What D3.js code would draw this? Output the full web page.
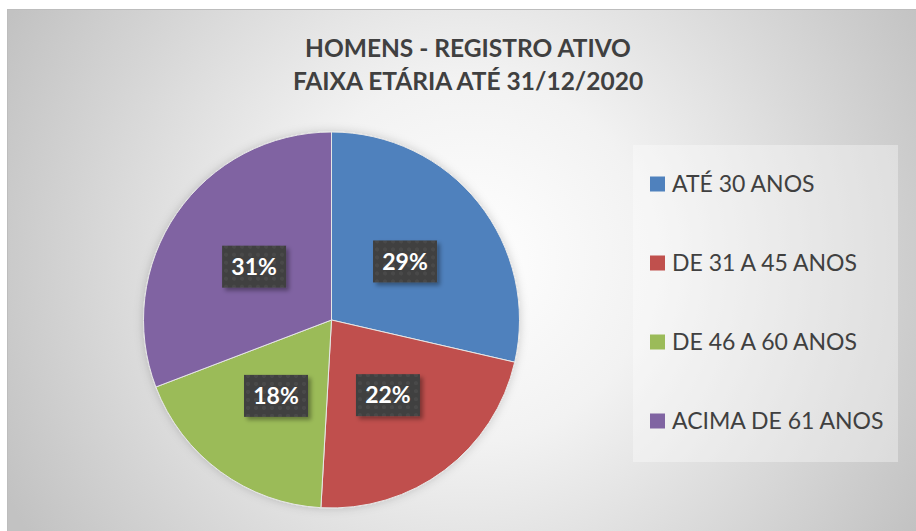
<!DOCTYPE html>
<html>
<head>
<meta charset="utf-8">
<script src="https://cdn.jsdelivr.net/npm/d3@7"></script>
<style>
  body { margin: 0; background: #fff; }
  svg { display: block; }
</style>
</head>
<body>
<svg id="chart"></svg>
<script>
// Data
const categories = ["ATÉ 30 ANOS", "DE 31 A 45 ANOS", "DE 46 A 60 ANOS", "ACIMA DE 61 ANOS"];
const values = [28.6, 22.3, 18.3, 30.8];
const colors = ["#4f81bd", "#c0504d", "#9bbb59", "#8064a2"];
const titleLines = ["HOMENS - REGISTRO ATIVO", "FAIXA ETÁRIA ATÉ 31/12/2020"];

const width = 916, height = 531;
const cx = 331.5, cy = 320, radius = 188;
const font = "Lato, 'Open Sans', sans-serif";

const svg = d3.select("#chart")
    .attr("width", width)
    .attr("height", height);

const defs = svg.append("defs");

// Background radial gradient
const grad = defs.append("radialGradient")
    .attr("id", "bg")
    .attr("gradientUnits", "userSpaceOnUse")
    .attr("cx", 470).attr("cy", 260).attr("r", 520);
grad.append("stop").attr("offset", "0").attr("stop-color", "#ffffff");
grad.append("stop").attr("offset", "0.35").attr("stop-color", "#f2f2f2");
grad.append("stop").attr("offset", "1").attr("stop-color", "#c2c2c2");

// Dotted dark pattern for the data labels
const pat = defs.append("pattern")
    .attr("id", "dots")
    .attr("patternUnits", "userSpaceOnUse")
    .attr("width", 8).attr("height", 8);
pat.append("rect").attr("width", 8).attr("height", 8).attr("fill", "#3f3f3f");
pat.append("circle").attr("cx", 4).attr("cy", 4).attr("r", 2).attr("fill", "#4a4a4a");

// Shadow filter for labels
const shadow = defs.append("filter").attr("id", "shadow")
    .attr("x", "-30%").attr("y", "-30%").attr("width", "160%").attr("height", "160%");
shadow.append("feDropShadow")
    .attr("dx", 3).attr("dy", 3).attr("stdDeviation", 2)
    .attr("flood-color", "#000").attr("flood-opacity", 0.35);

// Soft shadow around the pie
const pieShadow = defs.append("filter").attr("id", "pieShadow")
    .attr("x", "-20%").attr("y", "-20%").attr("width", "140%").attr("height", "140%");
pieShadow.append("feDropShadow")
    .attr("dx", 0).attr("dy", 0).attr("stdDeviation", 5)
    .attr("flood-color", "#000").attr("flood-opacity", 0.18);

// Chart area
svg.append("rect")
    .attr("x", 7.5).attr("y", 9.5)
    .attr("width", width).attr("height", height)
    .attr("fill", "url(#bg)")
    .attr("stroke", "#bdbdbd")
    .attr("stroke-width", 1);

// Title
svg.append("text")
    .attr("x", 468)
    .attr("text-anchor", "middle")
    .style("font-family", font)
    .style("font-weight", "bold")
    .style("font-size", "24.5px")
    .attr("fill", "#404040")
    .selectAll("tspan")
    .data(titleLines)
    .enter().append("tspan")
    .attr("x", 468)
    .attr("y", (d, i) => 57 + i * 33)
    .text(d => d);

// Pie
const pie = d3.pie().sort(null).startAngle(0).endAngle(2 * Math.PI);
const arcs = pie(values);
const arc = d3.arc().innerRadius(0).outerRadius(radius);

const g = svg.append("g")
    .attr("transform", `translate(${cx},${cy})`);

g.append("g")
    .attr("filter", "url(#pieShadow)")
    .selectAll("path")
    .data(arcs)
    .enter().append("path")
    .attr("d", arc)
    .attr("fill", (d, i) => colors[i])
    .attr("stroke", "#e6e6e6")
    .attr("stroke-width", 1);

// Data labels
const total = d3.sum(values);
const labels = g.selectAll(".label")
    .data(arcs)
    .enter().append("g")
    .attr("class", "label")
    .attr("transform", d => {
        const c = arc.centroid(d);
        return `translate(${c[0]},${c[1]})`;
    });

labels.append("rect")
    .attr("x", -32).attr("y", -21)
    .attr("width", 64).attr("height", 42)
    .attr("fill", "url(#dots)")
    .attr("filter", "url(#shadow)");

labels.append("text")
    .attr("text-anchor", "middle")
    .attr("dy", "0.36em")
    .style("font-family", font)
    .style("font-weight", "bold")
    .style("font-size", "23px")
    .attr("fill", "#ffffff")
    .text(d => Math.round(d.data / total * 100) + "%");

// Legend
const legendBox = { x: 633, y: 145, w: 265, h: 317 };
svg.append("rect")
    .attr("x", legendBox.x).attr("y", legendBox.y)
    .attr("width", legendBox.w).attr("height", legendBox.h)
    .attr("fill", "#ffffff")
    .attr("fill-opacity", 0.35);

const legend = svg.selectAll(".legend")
    .data(categories)
    .enter().append("g")
    .attr("class", "legend")
    .attr("transform", (d, i) => `translate(650,${184 + i * 79})`);

legend.append("rect")
    .attr("x", 0).attr("y", -7.5)
    .attr("width", 15).attr("height", 15)
    .attr("fill", (d, i) => colors[i]);

legend.append("text")
    .attr("x", 22)
    .attr("dy", "0.36em")
    .style("font-family", font)
    .style("font-size", "23px")
    .attr("fill", "#404040")
    .text(d => d);
</script>
</body>
</html>
